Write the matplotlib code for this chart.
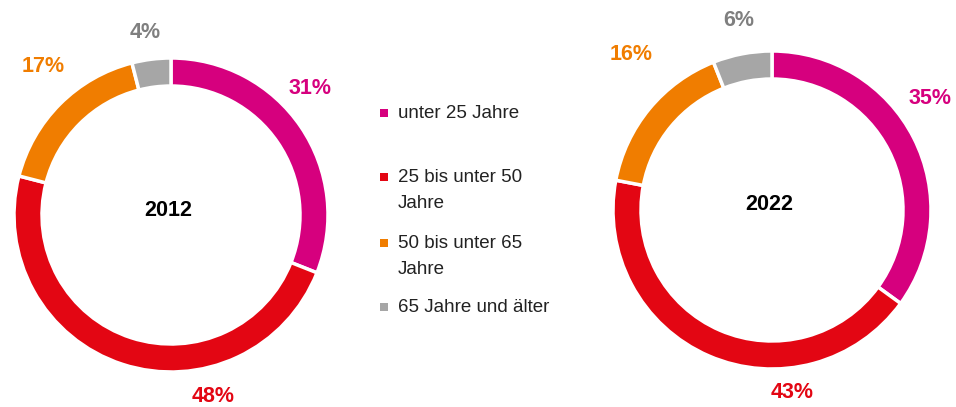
import matplotlib
matplotlib.use("Agg")
import matplotlib.pyplot as plt
from matplotlib import font_manager as fm
from matplotlib.patches import Rectangle

names = {f.name for f in fm.fontManager.ttflist}
FONT = "Liberation Sans Narrow" if "Liberation Sans Narrow" in names else "Liberation Sans"

categories = ["unter 25 Jahre", "25 bis unter 50\nJahre", "50 bis unter 65\nJahre", "65 Jahre und älter"]
years = ["2012", "2022"]
values_2012 = [31, 48, 17, 4]
values_2022 = [35, 43, 16, 6]
colors = ["#D6007E", "#E30613", "#F07D00", "#A6A6A6"]
label_colors = ["#D6007E", "#E30613", "#F07D00", "#7F7F7F"]

fig = plt.figure(figsize=(9.56, 4.07), dpi=100)
ax = fig.add_axes([0, 0, 1, 1])

donuts = [
    (values_2012, (171, 215), 157, years[0],
     [(310, 88), (213, 396), (43, 66), (145, 32)]),
    (values_2022, (772, 210), 159, years[1],
     [(930, 99), (792, 392), (631, 54), (739, 20)]),
]

for vals, center, r, year, lblpos in donuts:
    # y axis is inverted (pixel coordinates), so -90 / counterclockwise in data
    # appears as 12 o'clock / clockwise on screen
    ax.pie(vals, colors=colors, center=center, radius=r,
           startangle=-90, counterclock=True,
           wedgeprops=dict(width=28, edgecolor="white", linewidth=2.5))
    ax.text(center[0] - 3, center[1] - 5, year, ha="center", va="center",
            fontsize=15.5, fontweight="bold", family=[FONT, "DejaVu Sans"], color="black")
    for v, (x, y), c in zip(vals, lblpos, label_colors):
        ax.text(x, y, f"{v}%", ha="center", va="center", fontsize=15.5,
                fontweight="bold", family=[FONT, "DejaVu Sans"], color=c)

ax.set_xlim(0, 956)
ax.set_ylim(407, 0)
ax.set_aspect("equal")
ax.axis("off")

leg_rows = [113, 177, 243, 307]
for y, cat, c in zip(leg_rows, categories, colors):
    ax.add_patch(Rectangle((380, y - 4), 8, 8, facecolor=c, edgecolor="none"))
    for i, line in enumerate(cat.split("\n")):
        ax.text(398, y + i * 26, line, ha="left", va="center",
                fontsize=13.5, family=[FONT, "DejaVu Sans"], color="#222222")

fig.savefig("out.png", dpi=100)
